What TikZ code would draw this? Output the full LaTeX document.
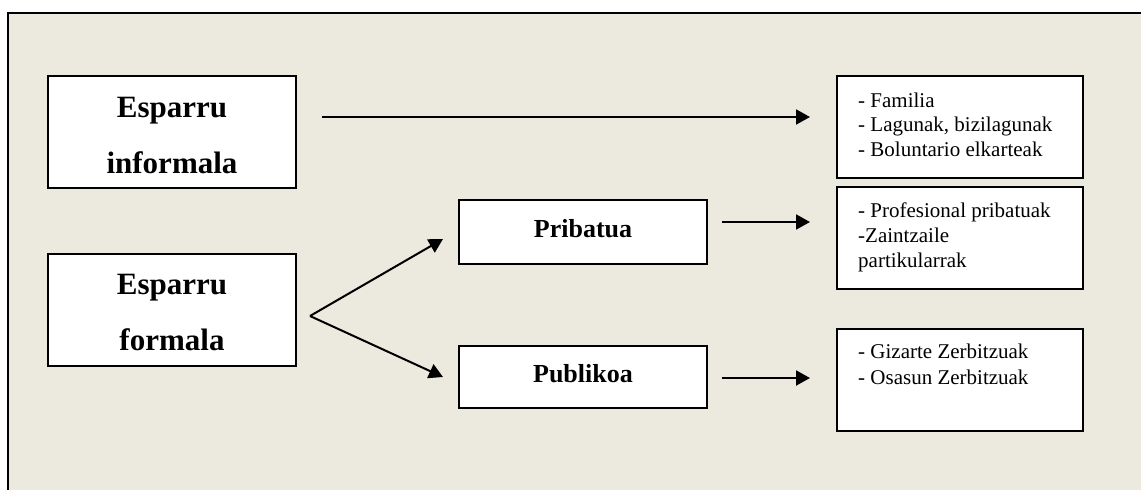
\documentclass[tikz,border=0pt]{standalone}
\usepackage{fontspec}
\setmainfont{Liberation Serif}
\usetikzlibrary{arrows.meta}
\definecolor{bg}{RGB}{236,233,223}
\tikzset{
  box/.style={draw=black, line width=2pt, fill=white, rectangle, inner sep=0pt},
  big/.style={font=\bfseries\fontsize{31}{56}\selectfont, inner sep=0pt},
  mid/.style={font=\bfseries\fontsize{26}{30}\selectfont, inner sep=0pt},
  lst/.style={font=\fontsize{21}{25}\selectfont, inner sep=0pt, anchor=base west},
  arr/.style={line width=2pt, -{Triangle[length=14pt,width=15pt]}}
}
\begin{document}
\begin{tikzpicture}[x=1pt,y=-1pt]
\useasboundingbox (0,0) rectangle (1141,490);
\fill[bg] (8,13) rectangle (1145,495);
\draw[line width=2.2pt] (8,495) -- (8,13) -- (1145,13);
% left boxes
\node[box, minimum width=248pt, minimum height=112pt] (inf) at (172,132) {};
\node[big, anchor=base] (infa) at (172,117) {Esparru};
\node[big, anchor=base] (infb) at (172,173) {informala};
\node[box, minimum width=248pt, minimum height=112pt] (for) at (172,310) {};
\node[big, anchor=base] (fora) at (172,294) {Esparru};
\node[big, anchor=base] (forb) at (172,350) {formala};
% middle boxes
\node[box, minimum width=248pt, minimum height=64pt] (pri) at (583,232) {};
\node[mid, anchor=base] (prit) at (583,237) {Pribatua};
\node[box, minimum width=248pt, minimum height=62pt] (pub) at (583,377) {};
\node[mid, anchor=base] (pubt) at (583,382) {Publikoa};
% right boxes
\node[box, minimum width=246pt, minimum height=102pt] (fam) at (960,127) {};
\node[lst] (f1) at (858,107) {- Familia};
\node[lst] (f2) at (858,131) {- Lagunak, bizilagunak};
\node[lst] (f3) at (858,156) {- Boluntario elkarteak};
\node[box, minimum width=246pt, minimum height=102pt] (prof) at (960,238) {};
\node[lst] (p1) at (858,217) {- Profesional pribatuak};
\node[lst] (p2) at (858,242) {-Zaintzaile};
\node[lst] (p3) at (858,267) {partikularrak};
\node[box, minimum width=246pt, minimum height=102pt] (giz) at (960,380) {};
\node[lst] (g1) at (858,358) {- Gizarte Zerbitzuak};
\node[lst] (g2) at (858,384) {- Osasun Zerbitzuak};
% connectors
\coordinate (a1) at (322,117);
\coordinate (a2) at (810,117);
\draw[arr] (a1) -- (a2);
\coordinate (split) at (310,316);
\coordinate (tp) at (443,239);
\coordinate (bt) at (443,377);
\draw[arr] (split) -- (tp);
\draw[arr] (split) -- (bt);
\coordinate (b1) at (722,222);
\coordinate (b2) at (810,222);
\draw[arr] (b1) -- (b2);
\coordinate (c1) at (722,378);
\coordinate (c2) at (810,378);
\draw[arr] (c1) -- (c2);
\end{tikzpicture}
\end{document}
